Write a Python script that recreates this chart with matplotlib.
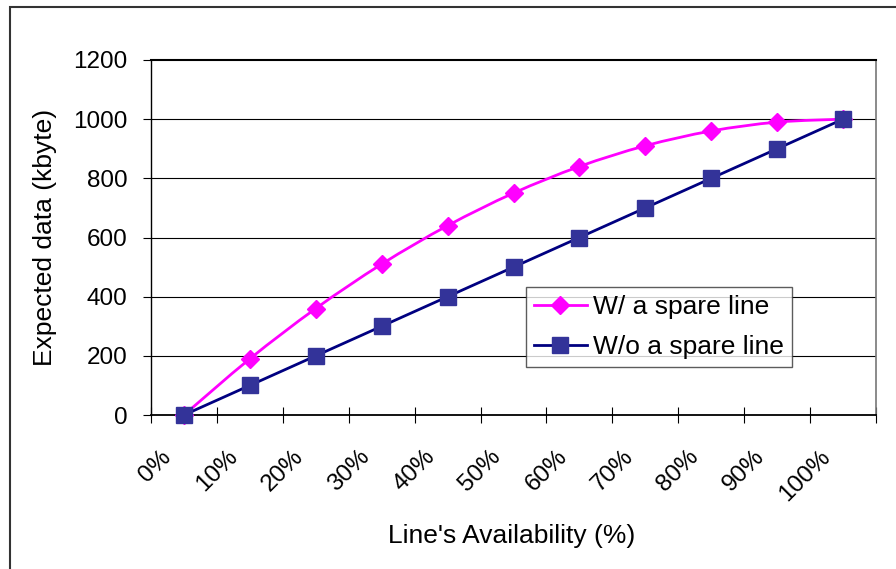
import matplotlib
matplotlib.use("Agg")
import matplotlib.pyplot as plt
import matplotlib.transforms as mtransforms
from matplotlib.path import Path
from matplotlib.patches import PathPatch, Rectangle
from matplotlib.lines import Line2D
import numpy as np

plt.rcParams['font.family'] = ['Liberation Sans', 'DejaVu Sans']

categories = ['0%', '10%', '20%', '30%', '40%', '50%', '60%', '70%', '80%', '90%', '100%']
with_spare = [0, 190, 360, 510, 640, 750, 840, 910, 960, 990, 1000]
without_spare = [0, 100, 200, 300, 400, 500, 600, 700, 800, 900, 1000]
y_ticks = [0, 200, 400, 600, 800, 1000, 1200]

PINK = '#FF00FF'
NAVY = '#000080'
SQUARE = '#333399'

W, H, DPI = 896, 569, 100


def smooth_path(x, y):
    # Catmull-Rom style cubic Bezier through every point
    pts = np.column_stack([x, y]).astype(float)
    ext = np.vstack([pts[0], pts, pts[-1]])
    verts = [tuple(pts[0])]
    codes = [Path.MOVETO]
    for i in range(1, len(ext) - 2):
        p0, p1, p2, p3 = ext[i - 1], ext[i], ext[i + 1], ext[i + 2]
        c1 = p1 + (p2 - p0) / 6.0
        c2 = p2 - (p3 - p1) / 6.0
        verts += [tuple(c1), tuple(c2), tuple(p2)]
        codes += [Path.CURVE4] * 3
    return Path(verts, codes)


fig = plt.figure(figsize=(W / DPI, H / DPI), dpi=DPI)
ax = fig.add_axes([151 / W, 1 - 415 / H, (876 - 151) / W, (415 - 60) / H])

x = np.arange(len(categories))

# outer chart border
fig.patches.append(Rectangle((10 / W, -0.1), 1.2, 1 - 7 / H + 0.1, transform=fig.transFigure,
                             fill=False, edgecolor='#333333', linewidth=1.5, zorder=0))

ax.set_xlim(-0.5, len(categories) - 0.5)
ax.set_ylim(0, 1200)

for yv in y_ticks[1:-1]:
    ax.axhline(yv, color='black', linewidth=0.8, zorder=1)

ax.add_patch(PathPatch(smooth_path(x, with_spare), fill=False, edgecolor=PINK,
                       linewidth=2.0, zorder=3))
ax.plot(x, with_spare, linestyle='none', marker='D', markersize=9.5,
        color=PINK, zorder=4, clip_on=False)
ax.plot(x, without_spare, color=NAVY, linewidth=2.0, zorder=3)
ax.plot(x, without_spare, linestyle='none', marker='s', markersize=11,
        markerfacecolor=SQUARE, markeredgecolor=SQUARE, zorder=5, clip_on=False)

for side in ['left', 'bottom', 'top']:
    ax.spines[side].set_color('black')
ax.spines['left'].set_linewidth(1.0)
ax.spines['bottom'].set_linewidth(1.3)
ax.spines['top'].set_linewidth(1.5)
ax.spines['right'].set_color('#777777')
ax.spines['right'].set_linewidth(1.2)

ax.set_yticks(y_ticks)
ax.set_yticklabels([str(v) for v in y_ticks])
ax.tick_params(axis='y', direction='out', length=6, width=0.8, pad=11, labelsize=17.5)

ax.set_xticks(x)
ax.set_xticklabels(categories, rotation=45, ha='right', va='top')
ax.set_xticks(np.arange(-0.5, len(categories)), minor=True)
ax.tick_params(axis='x', which='major', length=0, pad=22, labelsize=17.5)
ax.tick_params(axis='x', which='minor', direction='inout', length=12, width=0.8)
shift = mtransforms.ScaledTranslation(-8 / DPI, 0, fig.dpi_scale_trans)
for lab in ax.get_xticklabels():
    lab.set_transform(lab.get_transform() + shift)

fig.text(512 / W, 1 - 536 / H, "Line's Availability (%)", ha='center', va='center', fontsize=19)
fig.text(45 / W, 1 - 237 / H, 'Expected data (kbyte)', ha='center', va='center',
         rotation=90, fontsize=19)

handles = [
    Line2D([], [], color=PINK, linewidth=2.0, marker='D', markersize=9.5),
    Line2D([], [], color=NAVY, linewidth=2.0, marker='s', markersize=11,
           markerfacecolor=SQUARE, markeredgecolor=SQUARE),
]
leg = fig.legend(handles, ['W/ a spare line', 'W/o a spare line'], loc='upper left',
                 bbox_to_anchor=(526 / W, 1 - 287 / H), bbox_transform=fig.transFigure,
                 fontsize=19, frameon=True, fancybox=False, borderaxespad=0,
                 handlelength=2.0, handletextpad=0.25, borderpad=0.3, labelspacing=0.6)
leg.get_frame().set_edgecolor('#333333')
leg.get_frame().set_linewidth(1.0)

fig.savefig('out.png', dpi=DPI)
